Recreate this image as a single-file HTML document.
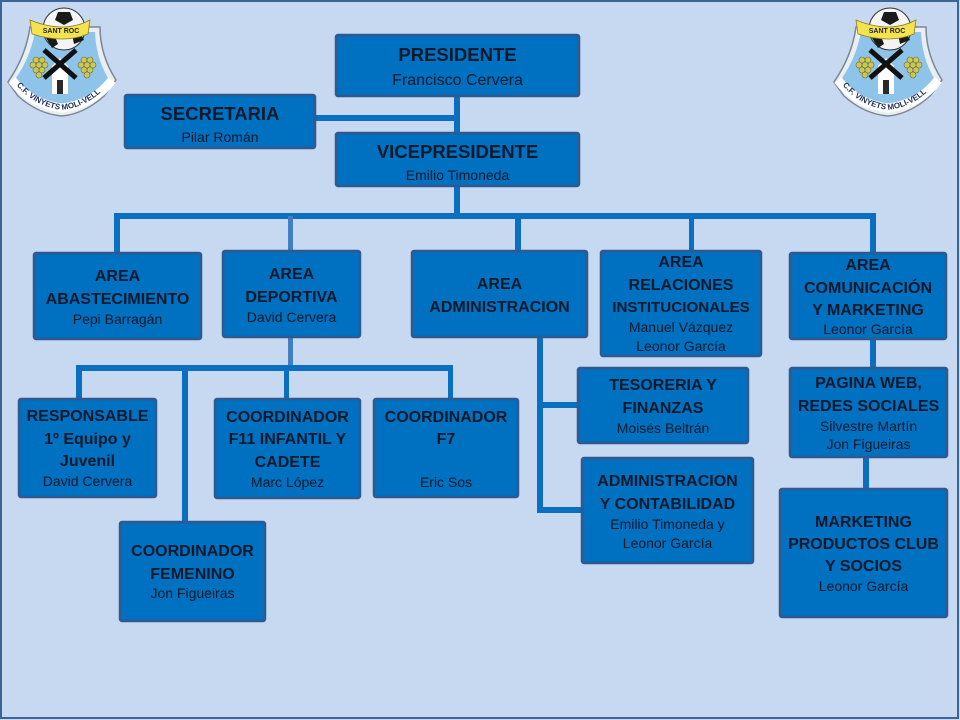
<!DOCTYPE html>
<html><head><meta charset="utf-8"><style>
html,body{margin:0;padding:0;background:#c6d9f1;}
svg{display:block;}
.t{font-family:"Liberation Sans",sans-serif;font-weight:bold;fill:#0c1a2c;text-anchor:middle;font-size:16px;}
.h{font-family:"Liberation Sans",sans-serif;font-weight:bold;fill:#0c1a2c;text-anchor:middle;font-size:18.5px;}
.n{font-family:"Liberation Sans",sans-serif;fill:#0c1a2c;text-anchor:middle;font-size:14px;}
.b{fill:#0070c0;stroke:#30598f;stroke-width:2.5;}
.l{fill:#0a6fc0;}
</style></head><body>
<svg width="960" height="720" viewBox="0 0 960 720" xmlns="http://www.w3.org/2000/svg">
<rect x="0" y="0" width="960" height="720" fill="#c6d9f1"/>
<rect x="1" y="1" width="957" height="717" fill="none" stroke="#3c6496" stroke-width="2"/>

<!-- logos -->
<g id="logoL">
  <path d="M30 27 L100 27 Q100 55 116 80 L104 96 Q84 114 62 116 Q38 114 18 96 L8 82 Q26 56 30 27 Z" fill="#e9eef3" stroke="#7c8791" stroke-width="1.5"/>
  <path d="M35 32 L95 32 Q96 58 108 78 Q90 104 62 106 Q34 104 16 78 Q30 58 35 32 Z" fill="#8ec3ea"/>
  <path d="M12 80 Q30 104 62 108 Q94 104 112 80" fill="none" stroke="#ffffff" stroke-width="9"/>
  <path id="arcL" d="M14 82 Q32 106 62 110 Q92 106 110 82" fill="none"/>
  <text font-family="Liberation Sans,sans-serif" font-weight="bold" font-size="8" fill="#1e2f55"><textPath href="#arcL" startOffset="4">C.F. VINYETS MOLI-VELL</textPath></text>
  <circle cx="64" cy="29" r="21" fill="#f4f4f4" stroke="#333" stroke-width="1"/>
  <path d="M58 12 L70 12 L73 20 L64 25 L55 20 Z" fill="#1a1a1a"/>
  <path d="M46 38 L54 34 L58 44 L52 48 Z" fill="#1a1a1a"/>
  <path d="M74 44 L72 34 L80 32 L84 40 Z" fill="#1a1a1a"/>
  <path d="M30 20 Q64 34 90 20 L88 34 Q64 44 32 34 Z" fill="#f3e34e" stroke="#8a7a20" stroke-width="0.8"/>
  <text x="61" y="33" font-family="Liberation Sans,sans-serif" font-weight="bold" font-size="7" fill="#222" text-anchor="middle">SANT ROC</text>
  <rect x="52" y="66" width="16" height="28" fill="#ffffff"/>
  <path d="M52 66 L60 58 L68 66 Z" fill="#ffffff"/>
  <rect x="57" y="80" width="6" height="14" fill="#2a2a2a"/>
  <path d="M44 50 L76 78 M76 50 L44 78" stroke="#111" stroke-width="5"/>
  <g fill="#c9c75a" stroke="#6f6e2c" stroke-width="0.6">
    <circle cx="36" cy="60" r="3"/><circle cx="42" cy="60" r="3"/><circle cx="33" cy="65" r="3"/><circle cx="39" cy="65" r="3"/><circle cx="45" cy="65" r="3"/><circle cx="36" cy="70" r="3"/><circle cx="42" cy="70" r="3"/><circle cx="39" cy="75" r="3"/>
    <circle cx="84" cy="60" r="3"/><circle cx="90" cy="60" r="3"/><circle cx="81" cy="65" r="3"/><circle cx="87" cy="65" r="3"/><circle cx="93" cy="65" r="3"/><circle cx="84" cy="70" r="3"/><circle cx="90" cy="70" r="3"/><circle cx="87" cy="75" r="3"/>
  </g>
</g>
<g transform="translate(826,0)">
  <path d="M30 27 L100 27 Q100 55 116 80 L104 96 Q84 114 62 116 Q38 114 18 96 L8 82 Q26 56 30 27 Z" fill="#e9eef3" stroke="#7c8791" stroke-width="1.5"/>
  <path d="M35 32 L95 32 Q96 58 108 78 Q90 104 62 106 Q34 104 16 78 Q30 58 35 32 Z" fill="#8ec3ea"/>
  <path d="M12 80 Q30 104 62 108 Q94 104 112 80" fill="none" stroke="#ffffff" stroke-width="9"/>
  <path id="arcR" d="M14 82 Q32 106 62 110 Q92 106 110 82" fill="none"/>
  <text font-family="Liberation Sans,sans-serif" font-weight="bold" font-size="8" fill="#1e2f55"><textPath href="#arcR" startOffset="4">C.F. VINYETS MOLI-VELL</textPath></text>
  <circle cx="64" cy="29" r="21" fill="#f4f4f4" stroke="#333" stroke-width="1"/>
  <path d="M58 12 L70 12 L73 20 L64 25 L55 20 Z" fill="#1a1a1a"/>
  <path d="M46 38 L54 34 L58 44 L52 48 Z" fill="#1a1a1a"/>
  <path d="M74 44 L72 34 L80 32 L84 40 Z" fill="#1a1a1a"/>
  <path d="M30 20 Q64 34 90 20 L88 34 Q64 44 32 34 Z" fill="#f3e34e" stroke="#8a7a20" stroke-width="0.8"/>
  <text x="61" y="33" font-family="Liberation Sans,sans-serif" font-weight="bold" font-size="7" fill="#222" text-anchor="middle">SANT ROC</text>
  <rect x="52" y="66" width="16" height="28" fill="#ffffff"/>
  <path d="M52 66 L60 58 L68 66 Z" fill="#ffffff"/>
  <rect x="57" y="80" width="6" height="14" fill="#2a2a2a"/>
  <path d="M44 50 L76 78 M76 50 L44 78" stroke="#111" stroke-width="5"/>
  <g fill="#c9c75a" stroke="#6f6e2c" stroke-width="0.6">
    <circle cx="36" cy="60" r="3"/><circle cx="42" cy="60" r="3"/><circle cx="33" cy="65" r="3"/><circle cx="39" cy="65" r="3"/><circle cx="45" cy="65" r="3"/><circle cx="36" cy="70" r="3"/><circle cx="42" cy="70" r="3"/><circle cx="39" cy="75" r="3"/>
    <circle cx="84" cy="60" r="3"/><circle cx="90" cy="60" r="3"/><circle cx="81" cy="65" r="3"/><circle cx="87" cy="65" r="3"/><circle cx="93" cy="65" r="3"/><circle cx="84" cy="70" r="3"/><circle cx="90" cy="70" r="3"/><circle cx="87" cy="75" r="3"/>
  </g>
</g>

<!-- connectors -->
<rect class="l" x="454" y="97" width="6" height="36"/>
<rect class="l" x="454" y="186" width="6" height="31"/>
<rect class="l" x="316" y="115" width="141" height="6"/>
<rect class="l" x="114" y="213" width="762" height="6"/>
<rect class="l" x="114" y="213" width="6" height="40"/>
<rect x="288" y="216" width="5" height="35" fill="#3f7fc2"/>
<rect class="l" x="515" y="213" width="6" height="38"/>
<rect class="l" x="689" y="213" width="5" height="38"/>
<rect class="l" x="870" y="213" width="6" height="40"/>
<rect x="288" y="337" width="5" height="31" fill="#3f7fc2"/>
<rect class="l" x="76" y="365" width="377" height="6"/>
<rect class="l" x="76" y="365" width="6" height="34"/>
<rect class="l" x="182" y="365" width="6" height="157"/>
<rect class="l" x="284" y="365" width="5" height="34"/>
<rect class="l" x="448" y="365" width="5" height="34"/>
<rect class="l" x="537" y="337" width="6" height="176"/>
<rect class="l" x="537" y="402" width="41" height="6"/>
<rect class="l" x="537" y="507" width="45" height="6"/>
<rect class="l" x="870" y="339" width="6" height="29"/>
<rect class="l" x="863" y="457" width="6" height="32"/>

<!-- boxes -->
<rect class="b" x="336" y="35" width="243" height="61" rx="2"/>
<rect class="b" x="125" y="95" width="190" height="53" rx="2"/>
<rect class="b" x="336" y="133" width="243" height="53" rx="2"/>
<rect class="b" x="34" y="253" width="167" height="86" rx="2"/>
<rect class="b" x="223" y="251" width="137" height="86" rx="2"/>
<rect class="b" x="412" y="251" width="175" height="86" rx="2"/>
<rect class="b" x="601" y="251" width="160" height="105" rx="2"/>
<rect class="b" x="790" y="253" width="156" height="86" rx="2"/>
<rect class="b" x="19" y="399" width="137" height="98" rx="2"/>
<rect class="b" x="215" y="399" width="145" height="99" rx="2"/>
<rect class="b" x="374" y="399" width="144" height="98" rx="2"/>
<rect class="b" x="120" y="522" width="145" height="99" rx="2"/>
<rect class="b" x="578" y="368" width="170" height="75" rx="2"/>
<rect class="b" x="582" y="458" width="171" height="105" rx="2"/>
<rect class="b" x="790" y="368" width="157" height="89" rx="2"/>
<rect class="b" x="780" y="489" width="167" height="128" rx="2"/>

<!-- texts -->
<text class="h" x="457.5" y="61">PRESIDENTE</text>
<text class="n" x="457.5" y="85" style="font-size:16px">Francisco Cervera</text>

<text class="h" x="220" y="120">SECRETARIA</text>
<text class="n" x="220" y="142">Pilar Román</text>

<text class="h" x="457.5" y="158">VICEPRESIDENTE</text>
<text class="n" x="457.5" y="180">Emilio Timoneda</text>

<text class="t" x="117.5" y="281">AREA</text>
<text class="t" x="117.5" y="304">ABASTECIMIENTO</text>
<text class="n" x="117.5" y="324">Pepi Barragán</text>

<text class="t" x="291.5" y="279">AREA</text>
<text class="t" x="291.5" y="302">DEPORTIVA</text>
<text class="n" x="291.5" y="322">David Cervera</text>

<text class="t" x="499.5" y="289">AREA</text>
<text class="t" x="499.5" y="312">ADMINISTRACION</text>

<text class="t" x="681" y="267">AREA</text>
<text class="t" x="681" y="290">RELACIONES</text>
<text class="t" x="681" y="312" style="font-size:15.2px">INSTITUCIONALES</text>
<text class="n" x="681" y="332">Manuel Vázquez</text>
<text class="n" x="681" y="351">Leonor García</text>

<text class="t" x="868" y="270">AREA</text>
<text class="t" x="868" y="293">COMUNICACIÓN</text>
<text class="t" x="868" y="315">Y MARKETING</text>
<text class="n" x="868" y="334">Leonor García</text>

<text class="t" x="87.5" y="421">RESPONSABLE</text>
<text class="t" x="87.5" y="444">1º Equipo y</text>
<text class="t" x="87.5" y="466">Juvenil</text>
<text class="n" x="87.5" y="486">David Cervera</text>

<text class="t" x="287.5" y="422">COORDINADOR</text>
<text class="t" x="287.5" y="444">F11 INFANTIL Y</text>
<text class="t" x="287.5" y="467">CADETE</text>
<text class="n" x="287.5" y="487">Marc López</text>

<text class="t" x="446" y="422">COORDINADOR</text>
<text class="t" x="446" y="444">F7</text>
<text class="n" x="446" y="487">Eric Sos</text>

<text class="t" x="192.5" y="556">COORDINADOR</text>
<text class="t" x="192.5" y="579">FEMENINO</text>
<text class="n" x="192.5" y="598">Jon Figueiras</text>

<text class="t" x="663" y="390">TESORERIA Y</text>
<text class="t" x="663" y="413">FINANZAS</text>
<text class="n" x="663" y="433">Moisés Beltrán</text>

<text class="t" x="667.5" y="486">ADMINISTRACION</text>
<text class="t" x="667.5" y="509">Y CONTABILIDAD</text>
<text class="n" x="667.5" y="529">Emilio Timoneda y</text>
<text class="n" x="667.5" y="548">Leonor García</text>

<text class="t" x="868.5" y="388">PAGINA WEB,</text>
<text class="t" x="868.5" y="411">REDES SOCIALES</text>
<text class="n" x="868.5" y="431">Silvestre Martín</text>
<text class="n" x="868.5" y="449">Jon Figueiras</text>

<text class="t" x="863.5" y="527">MARKETING</text>
<text class="t" x="863.5" y="549">PRODUCTOS CLUB</text>
<text class="t" x="863.5" y="571">Y SOCIOS</text>
<text class="n" x="863.5" y="591">Leonor García</text>
</svg>
</body></html>
